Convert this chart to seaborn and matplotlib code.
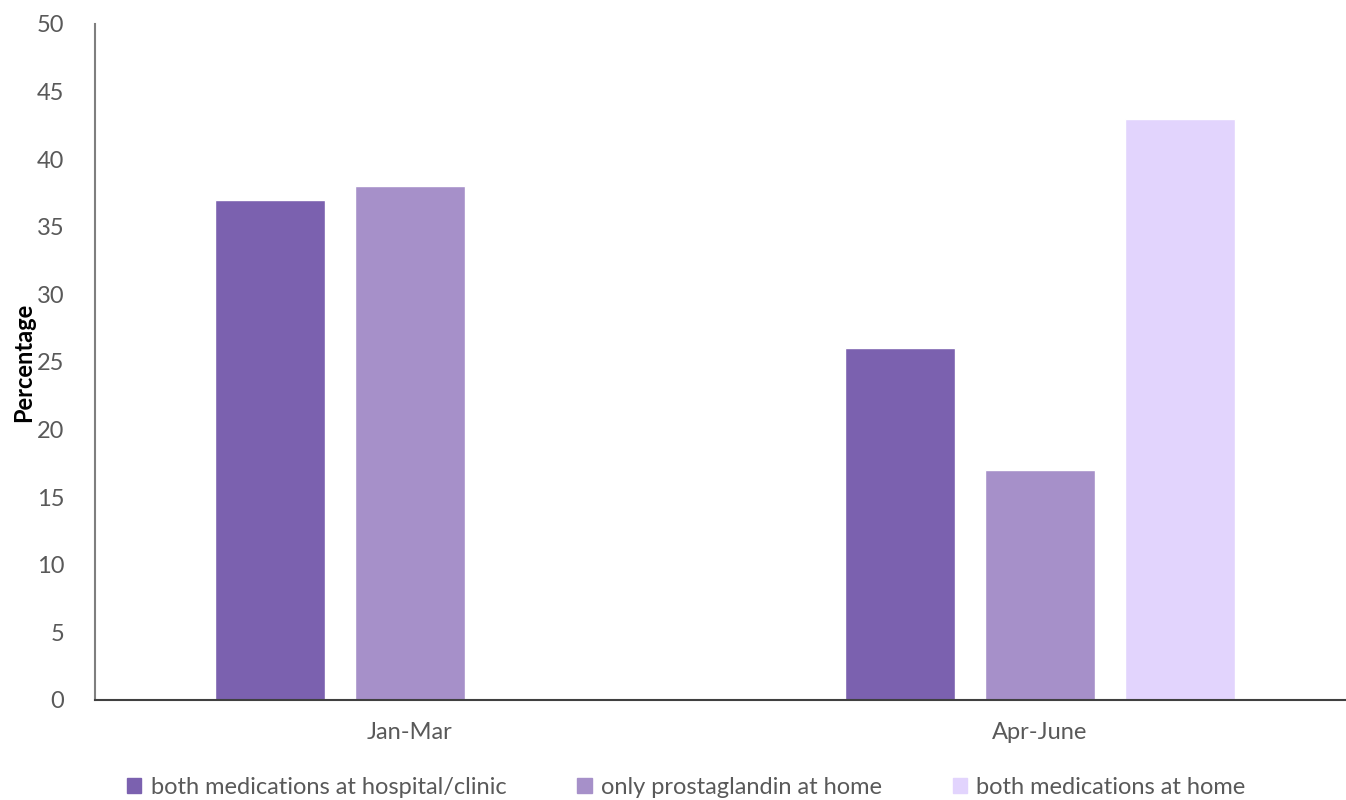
import pandas as pd
import numpy as np
import matplotlib
matplotlib.use('Agg')
import matplotlib.pyplot as plt
import seaborn as sns

# data
periods = ['Jan-Mar', 'Apr-June']
groups = ['both medications at hospital/clinic', 'only prostaglandin at home', 'both medications at home']
hospital_both = [37, 26]
home_prosta = [38, 17]
home_both = [np.nan, 43]   # no bar for Jan-Mar
colors = ['#7B61AF', '#A690C9', '#E2D4FD']

df = pd.DataFrame({
    'period': periods * 3,
    'group': [g for g in groups for _ in periods],
    'pct': hospital_both + home_prosta + home_both,
})

sns.set_style('white')
plt.rcParams['font.family'] = ['Lato', 'DejaVu Sans']

fig = plt.figure(figsize=(13.46, 8), dpi=100)
ax = fig.add_axes([95 / 1346, 100 / 800, 1 - 95 / 1346, 676 / 800])

sns.barplot(data=df, x='period', y='pct', hue='group', hue_order=groups, order=periods,
            palette=colors, width=0.667, gap=0.214, ax=ax, saturation=1, legend=False)

ax.set_xlim(-0.5, 1.486)
ax.set_ylim(0, 50)
ax.set_yticks(range(0, 51, 5))
ax.tick_params(axis='both', length=0, labelsize=17, labelcolor='#595959')
ax.tick_params(axis='x', pad=16)
ax.tick_params(axis='y', pad=22)
ax.set_xlabel('')
ax.set_ylabel('Percentage', fontsize=17, fontweight='bold', color='black', labelpad=1)

for s in ['top', 'right']:
    ax.spines[s].set_visible(False)
ax.spines['left'].set_color('#7f7f7f')
ax.spines['left'].set_linewidth(1.5)
ax.spines['bottom'].set_color('#404040')
ax.spines['bottom'].set_linewidth(1.5)

handles = [plt.Rectangle((0, 0), 1, 1, color=c) for c in colors]
fig.legend(handles, groups, loc='center', bbox_to_anchor=(0.51, 13 / 800), ncol=3, frameon=False,
           fontsize=17, labelcolor='#595959', handlelength=0.6, handleheight=0.6,
           handletextpad=0.4, columnspacing=3.0)

fig.savefig('out.png', dpi=100)
